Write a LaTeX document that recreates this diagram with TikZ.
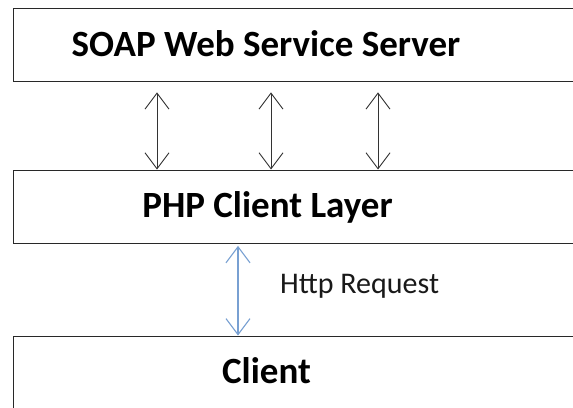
\documentclass[tikz,border=0pt]{standalone}
\usepackage{fontspec}
\setmainfont{Carlito}
\usetikzlibrary{arrows.meta}
\definecolor{boxline}{RGB}{40,40,40}
\definecolor{httpblue}{RGB}{120,160,210}
\tikzset{
  layerbox/.style={draw=boxline, line width=1.4pt, fill=white},
  boxtext/.style={font=\fontsize{37}{40}\selectfont\bfseries, anchor=base, inner sep=0pt},
  labeltext/.style={font=\fontsize{30}{34}\selectfont, anchor=base west, inner sep=0pt, text=black!90},
  duplex/.style={draw=black!80, line width=0.9pt, {Straight Barb[length=16pt,width=24pt,line width=0.9pt]}-{Straight Barb[length=16pt,width=24pt,line width=0.9pt]}},
  httparrow/.style={draw=httpblue, line width=1.1pt, {Straight Barb[length=16pt,width=24pt,line width=1.1pt]}-{Straight Barb[length=16pt,width=24pt,line width=1.1pt]}}
}
\begin{document}
\begin{tikzpicture}[x=1pt,y=-1pt]
\useasboundingbox (0,0) rectangle (573,407);
\clip (0,0) rectangle (573,407);
\fill[white] (0,0) rectangle (573,407);
% boxes
\node[layerbox, minimum width=600pt, minimum height=73pt, anchor=north west, inner sep=0pt] (server) at (13,8) {};
\node[layerbox, minimum width=600pt, minimum height=73pt, anchor=north west, inner sep=0pt] (layer) at (13,169.5) {};
\node[layerbox, minimum width=600pt, minimum height=100pt, anchor=north west, inner sep=0pt] (client) at (13,335.5) {};
% texts
\node[boxtext] (servertext) at (266,56) {SOAP Web Service Server};
\node[boxtext] (layertext) at (267.5,217) {PHP Client Layer};
\node[boxtext] (clienttext) at (266.5,383) {Client};
\node[labeltext] (httptext) at (280,293) {Http Request};
% connectors
\draw[duplex] (157,0 |- server.south) ++(0,10) -- (157,0 |- layer.north);
\draw[duplex] (271,0 |- server.south) ++(0,10) -- (271,0 |- layer.north);
\draw[duplex] (378,0 |- server.south) ++(0,10) -- (378,0 |- layer.north);
\draw[httparrow] (238,0 |- layer.south) ++(0,2) -- (238,0 |- client.north);
\end{tikzpicture}
\end{document}
